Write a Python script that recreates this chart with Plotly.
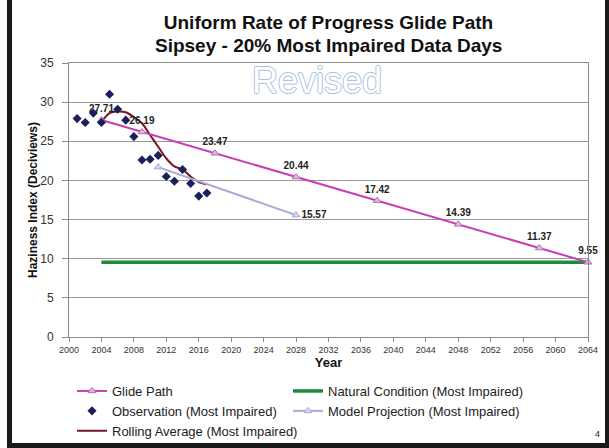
import plotly.graph_objects as go

# ---- data ----
obs_years = [2001, 2002, 2003, 2004, 2005, 2006, 2007, 2008, 2009, 2010, 2011,
             2012, 2013, 2014, 2015, 2016, 2017]
obs_values = [27.9, 27.4, 28.6, 27.4, 31.0, 29.1, 27.7, 25.6, 22.6, 22.7, 23.2,
              20.5, 19.9, 21.4, 19.6, 18.0, 18.4]

roll_years = [2004, 2005, 2006, 2007, 2008, 2009, 2010, 2011, 2012, 2013, 2014,
              2015, 2016, 2017]
roll_values = [27.5, 28.6, 28.8, 28.7, 28.1, 27.3, 25.8, 24.3, 22.8, 21.8, 21.4,
               20.5, 19.8, 19.5]

glide_years = [2004, 2009, 2018, 2028, 2038, 2048, 2058, 2064]
glide_values = [27.71, 26.19, 23.47, 20.44, 17.42, 14.39, 11.37, 9.55]
glide_labels = ["27.71", "26.19", "23.47", "20.44", "17.42", "14.39", "11.37", "9.55"]

natural_years = [2004, 2064]
natural_values = [9.55, 9.55]

model_years = [2011, 2028]
model_values = [21.7, 15.57]
model_labels = ["", "15.57"]

x_ticks = list(range(2000, 2065, 4))
y_ticks = [0, 5, 10, 15, 20, 25, 30, 35]

title_line1 = "Uniform Rate of Progress Glide Path"
title_line2 = "Sipsey - 20% Most Impaired Data Days"

# ---- layout geometry (pixels) ----
W, H = 609, 448
L, R, T, B = 69, 21, 63, 111
PW, PH = W - L - R, H - T - B


def px(xp):
    return (xp - L) / PW


def py(yp):
    return (H - B - yp) / PH


label_font = dict(family="Liberation Sans, Arial", size=10, color="#222222", weight="bold")
title_font = dict(family="Liberation Sans, Arial", size=19, color="#111111", weight="bold")

fig = go.Figure()

fig.add_trace(go.Scatter(
    x=natural_years, y=natural_values, name="Natural Condition (Most Impaired)",
    mode="lines", line=dict(color="#1f8a3a", width=3.5), legend="legend2", legendrank=1,
))

fig.add_trace(go.Scatter(
    x=roll_years, y=roll_values, name="Rolling Average (Most Impaired)",
    mode="lines", line=dict(color="#761428", width=2, shape="spline", smoothing=0.8),
    legend="legend", legendrank=3,
))

fig.add_trace(go.Scatter(
    x=model_years, y=model_values, name="Model Projection (Most Impaired)",
    mode="lines+markers+text", text=model_labels, textposition="middle right",
    textfont=label_font,
    line=dict(color="#aaa8d6", width=2),
    marker=dict(symbol="triangle-up", size=7, color="#d8d6ee",
                line=dict(color="#aaa8d6", width=1)),
    cliponaxis=False, legend="legend2", legendrank=2,
))

fig.add_trace(go.Scatter(
    x=glide_years, y=glide_values, name="Glide Path",
    mode="lines+markers+text", text=glide_labels, textposition="top center",
    textfont=label_font,
    line=dict(color="#c83cb4", width=2),
    marker=dict(symbol="triangle-up", size=7, color="#e0b8e0",
                line=dict(color="#b070b0", width=1)),
    cliponaxis=False, legend="legend", legendrank=1,
))

fig.add_trace(go.Scatter(
    x=obs_years, y=obs_values, name="Observation (Most Impaired)",
    mode="markers",
    marker=dict(symbol="diamond", size=7, color="#1c1f5c"),
    legend="legend", legendrank=2,
))

legend_common = dict(
    orientation="v", xanchor="left", yanchor="top", traceorder="normal",
    font=dict(family="Liberation Sans, Arial", size=13, color="#222222"),
    bgcolor="rgba(0,0,0,0)", itemwidth=30, tracegroupgap=0,
)

fig.update_layout(
    width=W, height=H,
    margin=dict(l=L, r=R, t=T, b=B, autoexpand=False),
    paper_bgcolor="white", plot_bgcolor="white",
    font=dict(family="Liberation Sans, Arial", color="#222222"),
    title=dict(
        text=title_line1,
        x=0.5, xref="paper", xanchor="center", y=1 - 22 / H, yanchor="middle",
        font=title_font,
    ),
    showlegend=True,
    legend=dict(x=px(72), y=py(376), **legend_common),
    legend2=dict(x=px(288), y=py(376), **legend_common),
    xaxis=dict(
        range=[2000, 2064], tickvals=x_ticks, ticktext=[str(v) for v in x_ticks],
        showgrid=False, zeroline=False, showline=True, linecolor="#8a8a8a",
        mirror=True, ticks="outside", ticklen=4, tickcolor="#8a8a8a",
        tickfont=dict(family="Liberation Sans, Arial", size=9, color="#333333"),
        title=dict(text="Year", standoff=4,
                   font=dict(family="Liberation Sans, Arial", size=13, color="#111111", weight="bold")),
    ),
    yaxis=dict(
        range=[0, 35], tickvals=y_ticks,
        showgrid=True, gridcolor="#9a9a9a", gridwidth=1, zeroline=False,
        showline=True, linecolor="#8a8a8a", mirror=True,
        ticks="outside", ticklen=6, tickcolor="#8a8a8a", ticklabelstandoff=6,
        tickfont=dict(family="Liberation Sans, Arial", size=12, color="#333333"),
        title=dict(text="Haziness Index (Deciviews)", standoff=0,
                   font=dict(family="Liberation Sans, Arial", size=12, color="#111111", weight="bold")),
    ),
    annotations=[
        dict(text=title_line2, x=0.5, y=py(46), xref="paper", yref="paper",
             xanchor="center", yanchor="middle", showarrow=False, font=title_font),
        dict(text="Revised", x=px(317), y=py(80), xref="paper", yref="paper",
             xanchor="center", yanchor="middle", showarrow=False,
             font=dict(family="Liberation Sans, Arial", size=36, color="#ffffff",
                       shadow="1px 0 0 #a9c1de, -1px 0 0 #a9c1de, 0 1px 0 #a9c1de, 0 -1px 0 #a9c1de")),
        dict(text="4", x=px(597), y=py(434), xref="paper", yref="paper",
             xanchor="center", yanchor="middle", showarrow=False,
             font=dict(family="Liberation Sans, Arial", size=9, color="#222222")),
    ],
    shapes=[
        dict(type="rect", xref="paper", yref="paper", x0=px(7), x1=px(12), y0=py(448), y1=py(0),
             fillcolor="#1a1a1a", line=dict(width=0), layer="above"),
        dict(type="rect", xref="paper", yref="paper", x0=px(605), x1=px(609), y0=py(448), y1=py(0),
             fillcolor="#1a1a1a", line=dict(width=0), layer="above"),
        dict(type="rect", xref="paper", yref="paper", x0=px(7), x1=px(609), y0=py(448), y1=py(443),
             fillcolor="#1a1a1a", line=dict(width=0), layer="above"),
    ],
)

fig.write_html(
    "out.html",
    config={"displayModeBar": False},
    post_script="document.body.style.margin='0';document.body.style.overflow='hidden';",
)
